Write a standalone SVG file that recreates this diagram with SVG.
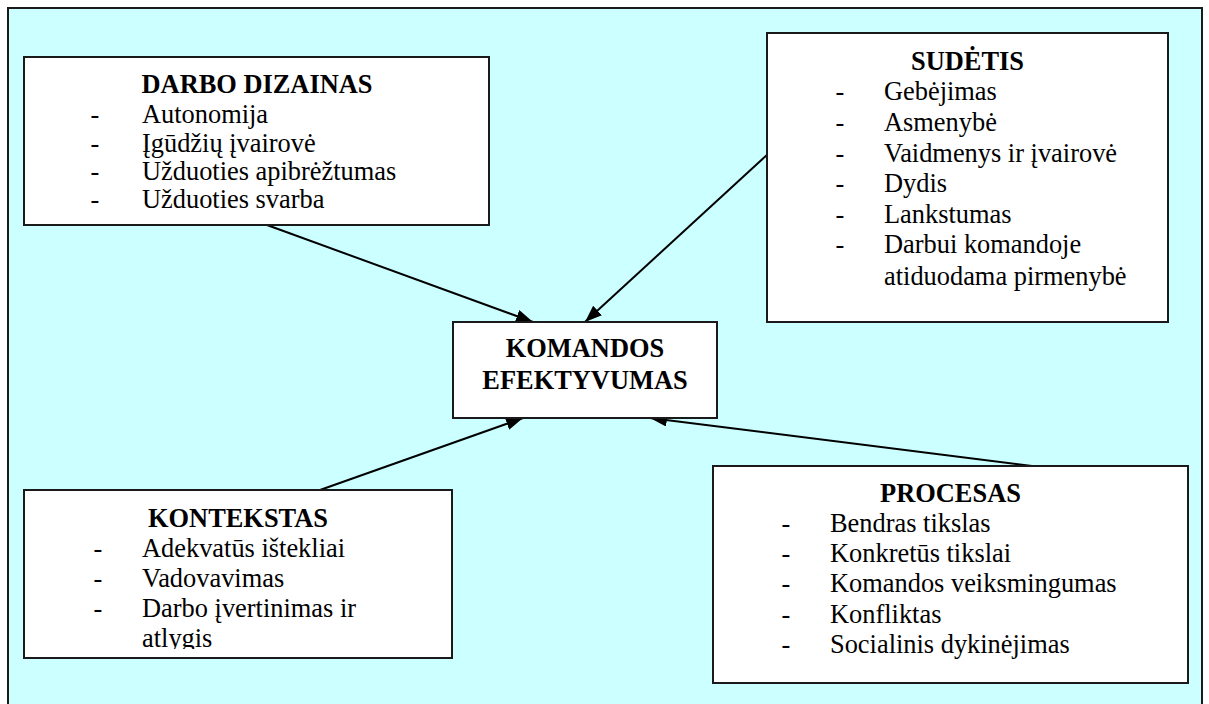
<svg xmlns="http://www.w3.org/2000/svg" width="1209" height="704" viewBox="0 0 1209 704" font-family="'Liberation Serif', 'Times New Roman', Times, 'DejaVu Serif', serif">
  <style>
    text { font-family: 'Liberation Serif', 'Times New Roman', Times, 'DejaVu Serif', serif; font-size: 26.4px; fill: #000; }
    .box { fill: #ffffff; stroke: #1a1a1a; stroke-width: 2; }
    .title { font-weight: bold; text-anchor: middle; }
    .dash { text-anchor: middle; }
    .link { stroke: #000; stroke-width: 2; fill: none; marker-end: url(#head); }
  </style>
  <defs>
    <marker id="head" markerUnits="userSpaceOnUse" markerWidth="17" markerHeight="13" refX="17" refY="6.5" orient="auto">
      <path d="M0,0 L17,6.5 L0,13 z" fill="#000"/>
    </marker>
    <clipPath id="clip-kontekstas">
      <rect x="24" y="490" width="428" height="159"/>
    </clipPath>
  </defs>

  <!-- page background frame -->
  <rect x="8" y="8" width="1194" height="704" fill="#ccffff" stroke="#1a1a1a" stroke-width="2"/>

  <!-- connectors -->
  <g id="connectors">
    <line class="link" x1="267" y1="225" x2="533" y2="322"/>
    <line class="link" x1="768" y1="154" x2="585" y2="322"/>
    <line class="link" x1="320" y1="490" x2="523" y2="418"/>
    <line class="link" x1="1032" y1="466" x2="650" y2="418"/>
  </g>

  <!-- job design -->
  <g id="darbo-dizainas">
    <rect class="box" x="24" y="57" width="465" height="168"/>
    <text class="title" x="257" y="93">DARBO DIZAINAS</text>
    <text class="dash" x="95" y="123">-</text>
    <text class="item" x="142" y="123">Autonomija</text>
    <text class="dash" x="95" y="152">-</text>
    <text class="item" x="142" y="152">Įgūdžių įvairovė</text>
    <text class="dash" x="95" y="180">-</text>
    <text class="item" x="142" y="180">Užduoties apibrėžtumas</text>
    <text class="dash" x="95" y="208">-</text>
    <text class="item" x="142" y="208">Užduoties svarba</text>
  </g>

  <!-- composition -->
  <g id="sudetis">
    <rect class="box" x="767" y="33" width="401" height="289"/>
    <text class="title" x="967.5" y="70">SUDĖTIS</text>
    <text class="dash" x="840" y="100">-</text>
    <text class="item" x="884" y="100">Gebėjimas</text>
    <text class="dash" x="840" y="131">-</text>
    <text class="item" x="884" y="131">Asmenybė</text>
    <text class="dash" x="840" y="162">-</text>
    <text class="item" x="884" y="162">Vaidmenys ir įvairovė</text>
    <text class="dash" x="840" y="192">-</text>
    <text class="item" x="884" y="192">Dydis</text>
    <text class="dash" x="840" y="223">-</text>
    <text class="item" x="884" y="223">Lankstumas</text>
    <text class="dash" x="840" y="253">-</text>
    <text class="item" x="884" y="253">Darbui komandoje</text>
    <text class="item" x="884" y="285">atiduodama pirmenybė</text>
  </g>

  <!-- team effectiveness -->
  <g id="komandos-efektyvumas">
    <rect class="box" x="453" y="322" width="264" height="96"/>
    <text class="title" x="585" y="357">KOMANDOS</text>
    <text class="title" x="585" y="389">EFEKTYVUMAS</text>
  </g>

  <!-- context -->
  <g id="kontekstas">
    <rect class="box" x="24" y="490" width="428" height="168"/>
    <g clip-path="url(#clip-kontekstas)">
      <text class="title" x="238" y="527">KONTEKSTAS</text>
      <text class="dash" x="98" y="557">-</text>
      <text class="item" x="142" y="557">Adekvatūs ištekliai</text>
      <text class="dash" x="98" y="587">-</text>
      <text class="item" x="142" y="587">Vadovavimas</text>
      <text class="dash" x="98" y="617">-</text>
      <text class="item" x="142" y="617">Darbo įvertinimas ir</text>
      <text class="item" x="142" y="647">atlygis</text>
    </g>
  </g>

  <!-- process -->
  <g id="procesas">
    <rect class="box" x="713" y="466" width="475" height="217"/>
    <text class="title" x="950.5" y="502">PROCESAS</text>
    <text class="dash" x="786" y="532">-</text>
    <text class="item" x="830" y="532">Bendras tikslas</text>
    <text class="dash" x="786" y="562">-</text>
    <text class="item" x="830" y="562">Konkretūs tikslai</text>
    <text class="dash" x="786" y="592">-</text>
    <text class="item" x="830" y="592">Komandos veiksmingumas</text>
    <text class="dash" x="786" y="623">-</text>
    <text class="item" x="830" y="623">Konfliktas</text>
    <text class="dash" x="786" y="653">-</text>
    <text class="item" x="830" y="653">Socialinis dykinėjimas</text>
  </g>
</svg>
